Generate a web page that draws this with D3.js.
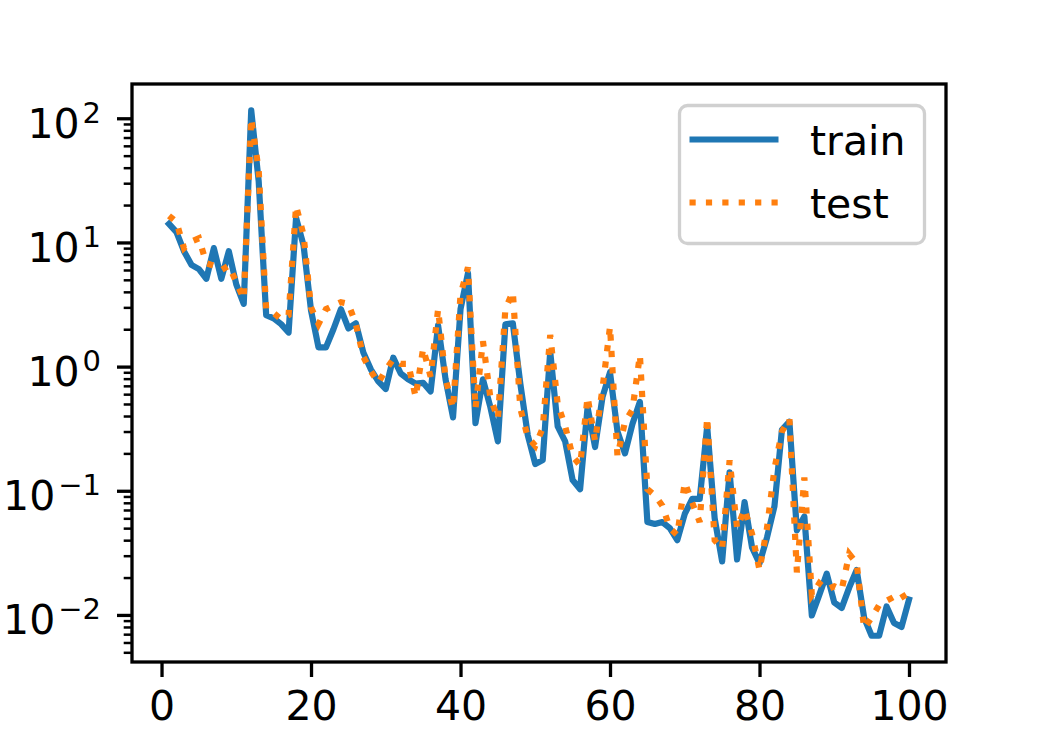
<!DOCTYPE html>
<html>
<head>
<meta charset="utf-8">
<script src="https://cdn.jsdelivr.net/npm/d3@7"></script>
<style>
body { margin: 0; background: #fff; }
text { font-family: "DejaVu Sans", sans-serif; fill: #000; }
</style>
</head>
<body>
<script>
// epochs and losses
const epochs = d3.range(1, 101);

const train = [
  14.1, 12.1, 8.5, 6.6, 6.1, 5.1, 9.0, 5.1, 8.5, 4.6,
  3.2, 116, 31, 2.6, 2.45, 2.2, 1.88, 15.8, 9.5, 2.84,
  1.43, 1.43, 2.0, 2.9, 2.03, 2.23, 1.3, 0.95, 0.76, 0.66,
  1.18, 0.88, 0.79, 0.73, 0.74, 0.63, 2.15, 0.79, 0.39, 2.9,
  5.66, 0.35, 0.79, 0.47, 0.25, 2.19, 2.23, 0.73, 0.28, 0.164,
  0.177, 1.32, 0.33, 0.25, 0.122, 0.103, 0.47, 0.225, 0.57, 0.9,
  0.3, 0.2, 0.345, 0.52, 0.056, 0.054, 0.056, 0.05, 0.04, 0.065,
  0.086, 0.086, 0.33, 0.06, 0.027, 0.141, 0.028, 0.081, 0.035, 0.026,
  0.042, 0.075, 0.31, 0.36, 0.048, 0.062, 0.0099, 0.0145, 0.0215, 0.0126,
  0.0114, 0.0166, 0.023, 0.0095, 0.0068, 0.0068, 0.0117, 0.0086, 0.008, 0.0133
];

const test = [
  16.4, 14.6, 9.0, 10.2, 10.8, 6.8, 6.5, 6.0, 6.5, 4.8,
  3.5, 100, 38, 2.9, 2.7, 2.4, 2.6, 19.7, 11.5, 3.0,
  2.2, 2.9, 3.1, 3.3, 3.2, 2.2, 1.2, 0.92, 0.74, 0.94,
  1.15, 1.05, 1.05, 0.57, 1.4, 0.83, 2.9, 0.8, 0.46, 3.8,
  6.3, 0.46, 1.6, 0.56, 0.38, 2.9, 4.0, 0.46, 0.27, 0.23,
  0.32, 1.8, 0.5, 0.33, 0.19, 0.16, 0.57, 0.25, 0.67, 2.1,
  0.19, 0.36, 0.45, 1.24, 0.103, 0.092, 0.076, 0.05, 0.044, 0.117,
  0.08, 0.056, 0.39, 0.04, 0.034, 0.176, 0.05, 0.071, 0.045, 0.023,
  0.05, 0.15, 0.3, 0.38, 0.022, 0.128, 0.0145, 0.018, 0.016, 0.017,
  0.016, 0.031, 0.026, 0.0078, 0.0095, 0.012, 0.013, 0.014, 0.015, 0.012
];

const xTicks = [0, 20, 40, 60, 80, 100];
const yTicks = [1e-2, 1e-1, 1e0, 1e1, 1e2];
const yExps = ["\u22122", "\u22121", "0", "1", "2"];
const seriesNames = ["train", "test"];

// layout
const W = 1041, H = 738;
const pLeft = 132, pRight = 946, pTop = 84, pBottom = 662;

const svg = d3.select("body").append("svg")
  .attr("width", W)
  .attr("height", H);

// x scale with matplotlib-like 5% margins
const xPad = (d3.max(epochs) - d3.min(epochs)) * 0.05;
const x = d3.scaleLinear()
  .domain([d3.min(epochs) - xPad, d3.max(epochs) + xPad])
  .range([pLeft, pRight]);

// log y scale, 5% margin in log space
const all = train.concat(test);
const lo = Math.log10(d3.min(all)), hi = Math.log10(d3.max(all));
const lp = (hi - lo) * 0.05;
const y = d3.scaleLog()
  .domain([Math.pow(10, lo - lp), Math.pow(10, hi + lp)])
  .range([pBottom, pTop]);

// minor ticks 2..9 per decade
const yMinor = [];
for (let p = -3; p <= 2; p++) {
  for (let k = 2; k <= 9; k++) {
    const v = k * Math.pow(10, p);
    if (v >= y.domain()[0] && v <= y.domain()[1]) yMinor.push(v);
  }
}

// lines
const line = d3.line()
  .x((d, i) => x(epochs[i]))
  .y(d => y(d));

svg.append("path")
  .datum(train)
  .attr("fill", "none")
  .attr("stroke", "#1f77b4")
  .attr("stroke-width", 6.2)
  .attr("stroke-linejoin", "round")
  .attr("stroke-linecap", "square")
  .attr("d", line);

svg.append("path")
  .datum(test)
  .attr("fill", "none")
  .attr("stroke", "#ff7f0e")
  .attr("stroke-width", 6.2)
  .attr("stroke-dasharray", "6.2,10.2")
  .attr("d", line);

// x axis
const gx = svg.append("g")
  .attr("transform", `translate(0,${pBottom})`)
  .call(d3.axisBottom(x).tickValues(xTicks).tickSize(15).tickPadding(14).tickFormat(d3.format("d")));
gx.select(".domain").remove();
gx.selectAll(".tick line").attr("stroke", "#000").attr("stroke-width", 3.3);
gx.selectAll(".tick text").style("font-size", "41px").style("font-family", "DejaVu Sans");

// y axis minor
const gym = svg.append("g")
  .attr("transform", `translate(${pLeft},0)`)
  .call(d3.axisLeft(y).tickValues(yMinor).tickSize(8.3).tickFormat(""));
gym.select(".domain").remove();
gym.selectAll(".tick line").attr("stroke", "#000").attr("stroke-width", 2.5);

// y axis major
const gy = svg.append("g")
  .attr("transform", `translate(${pLeft},0)`)
  .call(d3.axisLeft(y).tickValues(yTicks).tickSize(15).tickFormat(""));
gy.select(".domain").remove();
gy.selectAll(".tick line").attr("stroke", "#000").attr("stroke-width", 3.3);
gy.selectAll(".tick text").remove();
gy.selectAll(".tick").each(function(d, i) {
  const t = d3.select(this).append("text")
    .attr("x", -31)
    .attr("y", 19)
    .attr("text-anchor", "end")
    .style("font-size", "41px");
  t.append("tspan").text("10");
  t.append("tspan")
    .attr("dx", 3)
    .attr("dy", -15)
    .style("font-size", "29px")
    .text(yExps[i]);
});

// frame
svg.append("rect")
  .attr("x", pLeft)
  .attr("y", pTop)
  .attr("width", pRight - pLeft)
  .attr("height", pBottom - pTop)
  .attr("fill", "none")
  .attr("stroke", "#000")
  .attr("stroke-width", 3.3);

// legend
const lg = svg.append("g");
lg.append("rect")
  .attr("x", 679.5)
  .attr("y", 105.5)
  .attr("width", 245)
  .attr("height", 138)
  .attr("rx", 8)
  .attr("fill", "#fff")
  .attr("fill-opacity", 0.8)
  .attr("stroke", "#d0d0d0")
  .attr("stroke-width", 3.3);

const legendColors = ["#1f77b4", "#ff7f0e"];
const legendDash = [null, "6.2,10.2"];
const legendY = [139.5, 202.5];

seriesNames.forEach((name, i) => {
  lg.append("line")
    .attr("x1", 689.5)
    .attr("x2", 778.5)
    .attr("y1", legendY[i])
    .attr("y2", legendY[i])
    .attr("stroke", legendColors[i])
    .attr("stroke-width", 6.2)
    .attr("stroke-dasharray", legendDash[i]);
  lg.append("text")
    .attr("x", 810)
    .attr("y", legendY[i] + 15)
    .style("font-size", "41px")
    .text(name);
});
</script>
</body>
</html>
